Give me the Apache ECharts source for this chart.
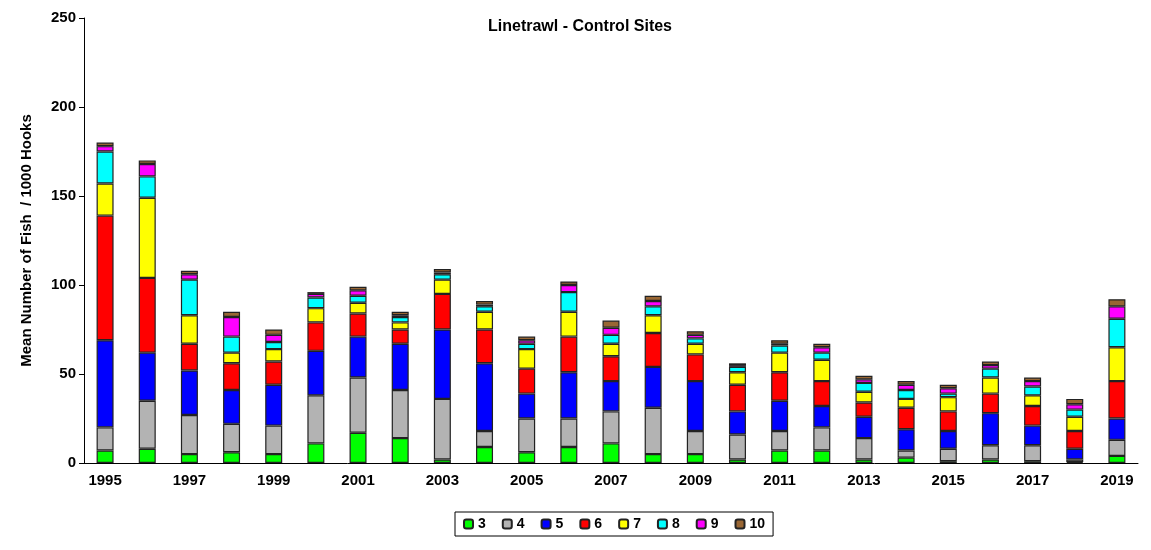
<!DOCTYPE html>
<html>
<head>
<meta charset="utf-8">
<script src="https://cdn.jsdelivr.net/npm/echarts@6/dist/echarts.min.js"></script>
<style>html,body{margin:0;background:#fff}#main{width:1151px;height:550px}</style>
</head>
<body>
<div id="main"></div>
<script>
var years = ['1995','1996','1997','1998','1999','2000','2001','2002','2003','2004','2005','2006','2007','2008','2009','2010','2011','2012','2013','2014','2015','2016','2017','2018','2019']
var names = ['3', '4', '5', '6', '7', '8', '9', '10']
var colors = ['#00ff00', '#b3b3b3', '#0000ff', '#ff0000', '#ffff00', '#00ffff', '#ff00ff', '#996633']

var s3 = [7, 8, 5, 6, 5, 11, 17, 14, 2, 9, 6, 9, 11, 5, 5, 2, 7, 7, 2, 3, 1, 2, 1, 0.5, 4]
var s4 = [13, 27, 22, 16, 16, 27, 31, 27, 34, 9, 19, 16, 18, 26, 13, 14, 11, 13, 12, 4, 7, 8, 9, 1.5, 9]
var s5 = [49, 27, 25, 19, 23, 25, 23, 26, 39, 38, 14, 26, 17, 23, 28, 13, 17, 12, 12, 12, 10, 18, 11, 6, 12]
var s6 = [70, 42, 15, 15, 13, 16, 13, 8, 20, 19, 14, 20, 14, 19, 15, 15, 16, 14, 8, 12, 11, 11, 11, 10, 21]
var s7 = [18, 45, 16, 6, 7, 8, 6, 4, 8, 10, 11, 14, 7, 10, 6, 7, 11, 12, 6, 5, 8, 9, 6, 8, 19]
var s8 = [18, 12, 20, 9, 4, 6, 4, 3, 3, 3, 3, 11, 5, 5, 3, 3, 4, 4, 5, 5, 2, 5, 5, 4, 16]
var s9 = [3, 7, 3, 11, 4, 2, 3, 1, 1, 1, 2, 4, 4, 3, 2, 1, 1, 3, 2, 3, 3, 2, 3, 3, 7]
var s10 = [2, 2, 2, 3, 3, 1, 2, 2, 2, 2, 2, 2, 4, 3, 2, 1, 2, 2, 2, 2, 2, 2, 2, 3, 4]
var allSeries = [s3, s4, s5, s6, s7, s8, s9, s10]

var myChart = echarts.init(document.getElementById('main'))
var axisText = { color: '#000', fontSize: 15, fontWeight: 'bold', fontFamily: 'Liberation Sans' }

var option = {
  animation: false,
  color: colors,
  title: {
    text: 'Linetrawl - Control Sites',
    left: 575, top: 14, textAlign: 'center',
    textStyle: { fontSize: 16, fontWeight: 'bold', fontFamily: 'Liberation Sans', color: '#000' }
  },
  legend: {
    bottom: 14, left: 455,
    itemWidth: 9, itemHeight: 9, itemGap: 16,
    borderColor: '#000', borderWidth: 1, padding: [5, 8],
    textStyle: { fontSize: 14, fontWeight: 'bold', fontFamily: 'Liberation Sans', color: '#000' },
    data: names
  },
  grid: { left: 84, right: 13, top: 18, bottom: 87 },
  xAxis: {
    type: 'category', data: years,
    axisLine: { lineStyle: { color: '#000' } },
    axisTick: { interval: 0, lineStyle: { color: '#000' } },
    axisLabel: Object.assign({ interval: 1, margin: 10 }, axisText)
  },
  yAxis: {
    type: 'value', min: 0, max: 250, interval: 50,
    name: 'Mean Number of Fish  / 1000 Hooks', nameLocation: 'middle', nameGap: 50,
    nameTextStyle: axisText,
    axisLine: { show: true, lineStyle: { color: '#000' } },
    axisTick: { show: true, lineStyle: { color: '#000' } },
    splitLine: { show: false },
    axisLabel: axisText
  },
  series: allSeries.map(function (d, i) {
    return {
      name: names[i], type: 'bar', stack: 'all', barWidth: 17, data: d,
      itemStyle: { borderColor: '#222', borderWidth: 1.2 }
    }
  })
}
myChart.setOption(option)
</script>
</body>
</html>
